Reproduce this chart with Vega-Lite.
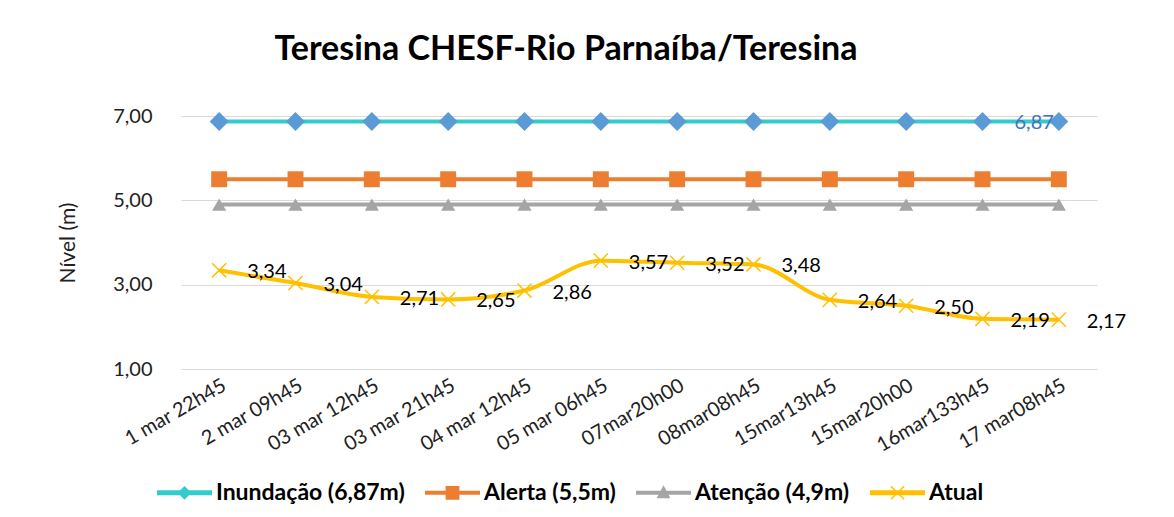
{
  "$schema": "https://vega.github.io/schema/vega-lite/v6.json",
  "width": 916,
  "height": 253,
  "autosize": {"type": "none"},
  "padding": {"left": 181, "top": 116, "right": 77, "bottom": 148},
  "background": "white",
  "title": {
    "text": "Teresina CHESF-Rio Parnaíba/Teresina",
    "font": "Lato",
    "fontSize": 34,
    "fontWeight": "bold",
    "color": "#000000",
    "anchor": "middle",
    "dx": -73,
    "offset": 39
  },
  "config": {
    "view": {"stroke": null},
    "font": "Lato",
    "axis": {"titleFontSize": 21, "titleFontWeight": "normal", "titleColor": "#222222"},
    "axisY": {"titleFont": "Lato", "titleFontSize": 21, "titleFontWeight": "normal", "titleColor": "#222222"},
    "axisQuantitative": {"titleFontSize": 21},
    "style": {"guide-title": {"fontSize": 21, "fontWeight": "normal", "font": "Lato"}},
    "locale": {
      "number": {"decimal": ",", "thousands": ".", "grouping": [3], "currency": ["R$", ""]}
    }
  },
  "data": {
    "values": [
      {"d": "1 mar 22h45", "s": "Inundação (6,87m)", "v": 6.87},
      {"d": "2 mar 09h45", "s": "Inundação (6,87m)", "v": 6.87},
      {"d": "03 mar 12h45", "s": "Inundação (6,87m)", "v": 6.87},
      {"d": "03 mar 21h45", "s": "Inundação (6,87m)", "v": 6.87},
      {"d": "04 mar 12h45", "s": "Inundação (6,87m)", "v": 6.87},
      {"d": "05 mar 06h45", "s": "Inundação (6,87m)", "v": 6.87},
      {"d": "07mar20h00", "s": "Inundação (6,87m)", "v": 6.87},
      {"d": "08mar08h45", "s": "Inundação (6,87m)", "v": 6.87},
      {"d": "15mar13h45", "s": "Inundação (6,87m)", "v": 6.87},
      {"d": "15mar20h00", "s": "Inundação (6,87m)", "v": 6.87},
      {"d": "16mar133h45", "s": "Inundação (6,87m)", "v": 6.87},
      {"d": "17 mar08h45", "s": "Inundação (6,87m)", "v": 6.87},
      {"d": "1 mar 22h45", "s": "Alerta (5,5m)", "v": 5.5},
      {"d": "2 mar 09h45", "s": "Alerta (5,5m)", "v": 5.5},
      {"d": "03 mar 12h45", "s": "Alerta (5,5m)", "v": 5.5},
      {"d": "03 mar 21h45", "s": "Alerta (5,5m)", "v": 5.5},
      {"d": "04 mar 12h45", "s": "Alerta (5,5m)", "v": 5.5},
      {"d": "05 mar 06h45", "s": "Alerta (5,5m)", "v": 5.5},
      {"d": "07mar20h00", "s": "Alerta (5,5m)", "v": 5.5},
      {"d": "08mar08h45", "s": "Alerta (5,5m)", "v": 5.5},
      {"d": "15mar13h45", "s": "Alerta (5,5m)", "v": 5.5},
      {"d": "15mar20h00", "s": "Alerta (5,5m)", "v": 5.5},
      {"d": "16mar133h45", "s": "Alerta (5,5m)", "v": 5.5},
      {"d": "17 mar08h45", "s": "Alerta (5,5m)", "v": 5.5},
      {"d": "1 mar 22h45", "s": "Atenção (4,9m)", "v": 4.9},
      {"d": "2 mar 09h45", "s": "Atenção (4,9m)", "v": 4.9},
      {"d": "03 mar 12h45", "s": "Atenção (4,9m)", "v": 4.9},
      {"d": "03 mar 21h45", "s": "Atenção (4,9m)", "v": 4.9},
      {"d": "04 mar 12h45", "s": "Atenção (4,9m)", "v": 4.9},
      {"d": "05 mar 06h45", "s": "Atenção (4,9m)", "v": 4.9},
      {"d": "07mar20h00", "s": "Atenção (4,9m)", "v": 4.9},
      {"d": "08mar08h45", "s": "Atenção (4,9m)", "v": 4.9},
      {"d": "15mar13h45", "s": "Atenção (4,9m)", "v": 4.9},
      {"d": "15mar20h00", "s": "Atenção (4,9m)", "v": 4.9},
      {"d": "16mar133h45", "s": "Atenção (4,9m)", "v": 4.9},
      {"d": "17 mar08h45", "s": "Atenção (4,9m)", "v": 4.9},
      {"d": "1 mar 22h45", "s": "Atual", "v": 3.34},
      {"d": "2 mar 09h45", "s": "Atual", "v": 3.04},
      {"d": "03 mar 12h45", "s": "Atual", "v": 2.71},
      {"d": "03 mar 21h45", "s": "Atual", "v": 2.65},
      {"d": "04 mar 12h45", "s": "Atual", "v": 2.86},
      {"d": "05 mar 06h45", "s": "Atual", "v": 3.57},
      {"d": "07mar20h00", "s": "Atual", "v": 3.52},
      {"d": "08mar08h45", "s": "Atual", "v": 3.48},
      {"d": "15mar13h45", "s": "Atual", "v": 2.64},
      {"d": "15mar20h00", "s": "Atual", "v": 2.5},
      {"d": "16mar133h45", "s": "Atual", "v": 2.19},
      {"d": "17 mar08h45", "s": "Atual", "v": 2.17}
    ]
  },
  "encoding": {
    "x": {
      "field": "d",
      "type": "nominal",
      "sort": null,
      "scale": {"type": "point", "padding": 0.5},
      "axis": {
        "title": null,
        "labelAngle": -30,
        "labelFont": "Lato",
        "labelFontSize": 20,
        "labelColor": "#222222",
        "labelPadding": 6,
        "ticks": false,
        "domain": false,
        "grid": false
      }
    },
    "y": {
      "field": "v",
      "type": "quantitative",
      "scale": {"domain": [1, 7], "nice": false, "zero": false},
      "axis": {
        "title": "Nível (m)",
        "titleFont": "Lato",
        "titleFontSize": 21,
        "titleFontWeight": "normal",
        "titleColor": "#222222",
        "titlePadding": 34,
        "values": [1, 3, 5, 7],
        "format": ".2f",
        "labelFont": "Lato",
        "labelFontSize": 20,
        "labelColor": "#222222",
        "labelPadding": 29,
        "ticks": false,
        "domain": false,
        "grid": true,
        "gridColor": "#D9D9D9",
        "gridWidth": 1
      }
    }
  },
  "resolve": {
    "scale": {"shape": "independent", "fill": "independent", "size": "independent"},
    "legend": {"shape": "independent", "fill": "independent"}
  },
  "layer": [
    {
      "mark": {"type": "line", "interpolate": "monotone"},
      "encoding": {
        "stroke": {
          "field": "s",
          "type": "nominal",
          "scale": {
            "domain": ["Atual", "Inundação (6,87m)", "Alerta (5,5m)", "Atenção (4,9m)"],
            "range": ["#FFC000", "#33CCCC", "#ED7D31", "#A5A5A5"]
          },
          "legend": null
        },
        "strokeWidth": {
          "field": "s",
          "type": "nominal",
          "scale": {
            "domain": ["Alerta (5,5m)", "Atenção (4,9m)", "Atual", "Inundação (6,87m)"],
            "range": [4, 4, 5, 5]
          },
          "legend": null
        }
      }
    },
    {
      "transform": [{"filter": "datum.s !== 'Atual'"}],
      "mark": {"type": "point", "filled": true, "opacity": 1},
      "encoding": {
        "shape": {
          "field": "s",
          "type": "nominal",
          "scale": {
            "domain": ["Atenção (4,9m)", "Atual", "Inundação (6,87m)", "Alerta (5,5m)"],
            "range": ["triangle-up", "M-1,-1L1,1M1,-1L-1,1", "diamond", "square"]
          },
          "legend": null
        },
        "size": {
          "field": "s",
          "type": "nominal",
          "scale": {
            "domain": ["Inundação (6,87m)", "Atual", "Alerta (5,5m)", "Atenção (4,9m)"],
            "range": [361, 200, 225, 220]
          },
          "legend": null
        },
        "fill": {
          "field": "s",
          "type": "nominal",
          "scale": {
            "domain": ["Alerta (5,5m)", "Inundação (6,87m)", "Atenção (4,9m)", "Atual"],
            "range": ["#ED7D31", "#5B9BD5", "#A5A5A5", "#FFC000"]
          },
          "legend": null
        }
      }
    },
    {
      "transform": [{"filter": "datum.s === 'Atual'"}],
      "mark": {"type": "point", "shape": "M-1,-1L1,1M1,-1L-1,1", "filled": false, "stroke": "#FFC000", "strokeWidth": 1.5, "opacity": 1, "size": 200}
    },
    {
      "transform": [{"filter": "datum.s === 'Atual'"}],
      "mark": {"type": "text", "align": "left", "baseline": "middle", "dx": 28, "dy": 2, "font": "Lato", "fontSize": 20, "color": "#000000"},
      "encoding": {
        "text": {"field": "v", "type": "quantitative", "format": ".2f"}
      }
    },
    {
      "transform": [{"filter": "datum.s === 'Inundação (6,87m)' && datum.d === '17 mar08h45'"}],
      "mark": {"type": "text", "align": "right", "baseline": "middle", "dx": -5, "dy": 2, "font": "Lato", "fontSize": 20, "color": "#4472C4"},
      "encoding": {
        "text": {"field": "v", "type": "quantitative", "format": ".2f"}
      }
    },
    {
      "transform": [{"filter": "false"}],
      "mark": {"type": "point", "filled": true, "opacity": 1, "strokeWidth": 0},
      "encoding": {
        "shape": {
          "field": "s",
          "type": "nominal",
          "scale": {
            "domain": ["Inundação (6,87m)", "Alerta (5,5m)", "Atenção (4,9m)", "Atual"],
            "range": [
              "M-1,-0.09L1,-0.09L1,0.09L-1,0.09ZM0,-0.25L0.25,0L0,0.25L-0.25,0Z",
              "M-1,-0.075L1,-0.075L1,0.075L-1,0.075ZM-0.25,-0.25L0.25,-0.25L0.25,0.25L-0.25,0.25Z",
              "M-1,-0.075L1,-0.075L1,0.075L-1,0.075ZM0,-0.27L0.25,0.2L-0.25,0.2Z",
              "M-1,-0.09L1,-0.09L1,0.09L-1,0.09ZM-0.221,-0.259L0.259,0.221L0.221,0.259L-0.259,-0.221ZM0.259,-0.221L-0.221,0.259L-0.259,0.221L0.221,-0.259Z"
            ]
          },
          "legend": {
            "title": null,
            "orient": "none",
            "direction": "horizontal",
            "legendX": -24,
            "legendY": 349,
            "symbolSize": 3025,
            "symbolStrokeWidth": 0,
            "symbolOpacity": 1,
            "labelFont": "Lato",
            "labelFontSize": 23,
            "labelFontWeight": "bold",
            "labelColor": "#000000",
            "labelLimit": 400,
            "labelOffset": 4,
            "columnPadding": 20
          }
        },
        "fill": {
          "field": "s",
          "type": "nominal",
          "scale": {
            "domain": ["Inundação (6,87m)", "Alerta (5,5m)", "Atenção (4,9m)", "Atual"],
            "range": ["#33CCCC", "#ED7D31", "#A5A5A5", "#FFC000"]
          },
          "legend": {
            "title": null,
            "orient": "none",
            "direction": "horizontal",
            "legendX": -24,
            "legendY": 349,
            "symbolSize": 3025,
            "symbolStrokeWidth": 0,
            "symbolOpacity": 1,
            "labelFont": "Lato",
            "labelFontSize": 23,
            "labelFontWeight": "bold",
            "labelColor": "#000000",
            "labelLimit": 400,
            "labelOffset": 4,
            "columnPadding": 20
          }
        }
      }
    }
  ]
}
